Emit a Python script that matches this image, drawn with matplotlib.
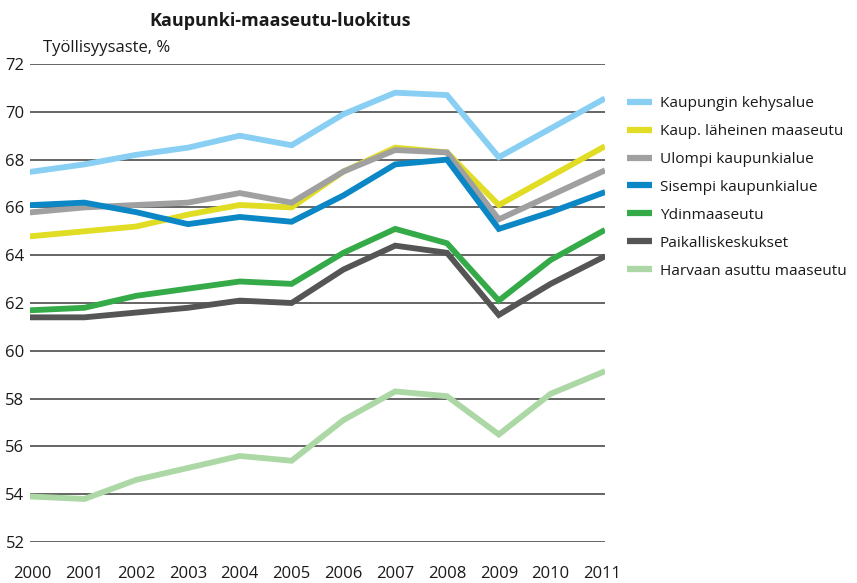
import matplotlib
matplotlib.use("Agg")
import matplotlib.pyplot as plt

plt.rcParams['font.family'] = ['Open Sans', 'DejaVu Sans']

years = list(range(2000, 2012))
series_names = [
    "Kaupungin kehysalue",
    "Kaup. läheinen maaseutu",
    "Ulompi kaupunkialue",
    "Sisempi kaupunkialue",
    "Ydinmaaseutu",
    "Paikalliskeskukset",
    "Harvaan asuttu maaseutu",
]
kehysalue = [67.5, 67.8, 68.2, 68.5, 69.0, 68.6, 69.9, 70.8, 70.7, 68.1, 69.3, 70.5]
laheinen = [64.8, 65.0, 65.2, 65.7, 66.1, 66.0, 67.5, 68.5, 68.3, 66.1, 67.3, 68.5]
ulompi = [65.8, 66.0, 66.1, 66.2, 66.6, 66.2, 67.5, 68.4, 68.3, 65.5, 66.5, 67.5]
sisempi = [66.1, 66.2, 65.8, 65.3, 65.6, 65.4, 66.5, 67.8, 68.0, 65.1, 65.8, 66.6]
ydin = [61.7, 61.8, 62.3, 62.6, 62.9, 62.8, 64.1, 65.1, 64.5, 62.1, 63.8, 65.0]
paikallis = [61.4, 61.4, 61.6, 61.8, 62.1, 62.0, 63.4, 64.4, 64.1, 61.5, 62.8, 63.9]
harvaan = [53.9, 53.8, 54.6, 55.1, 55.6, 55.4, 57.1, 58.3, 58.1, 56.5, 58.2, 59.1]
colors = ["#88cff3", "#e1dc24", "#a0a0a0", "#0a87c4", "#35aa48", "#555555", "#acd8a5"]
yticks = list(range(52, 73, 2))

all_series = [kehysalue, laheinen, ulompi, sisempi, ydin, paikallis, harvaan]

fig = plt.figure(figsize=(8.57, 5.83), dpi=100)
ax = fig.add_axes([30/857, 1-542/583, (605-30)/857, (542-64)/583])

for y in yticks:
    ax.axhline(y, color="#3c3c3c", lw=1.1, zorder=1)

for name, vals, c in zip(series_names, all_series, colors):
    ax.plot(years, vals, color=c, lw=4.2, label=name, solid_joinstyle='miter', zorder=3)

ax.set_xlim(1999.95, 2011.05)
ax.set_ylim(52, 72)
ax.set_yticks(yticks)
ax.set_xticks(years)
ax.set_xticklabels([str(y) for y in years])
for s in ax.spines.values():
    s.set_visible(False)
ax.tick_params(axis='both', length=0, labelsize=12, colors="#1a1a1a")
ax.tick_params(axis='x', pad=17)
ax.tick_params(axis='y', pad=4)

fig.text(280/857, 1-21/583, "Kaupunki-maaseutu-luokitus", ha='center', va='center',
         fontsize=13, fontweight='bold', color="#1a1a1a")
fig.text(43/857, 1-48/583, "Työllisyysaste, %", ha='left', va='center',
         fontsize=12, color="#1a1a1a")

leg = fig.legend(loc='upper left', bbox_to_anchor=(627/857, 1-96/583), frameon=False,
                 fontsize=11.1, handlelength=1.62, handletextpad=0.52, labelspacing=0.84,
                 borderaxespad=0, borderpad=0)
for t in leg.get_texts():
    t.set_color("#1a1a1a")
for l in leg.get_lines():
    l.set_linewidth(4.5)
    l.set_solid_capstyle('butt')

fig.savefig("out.png", dpi=100)
